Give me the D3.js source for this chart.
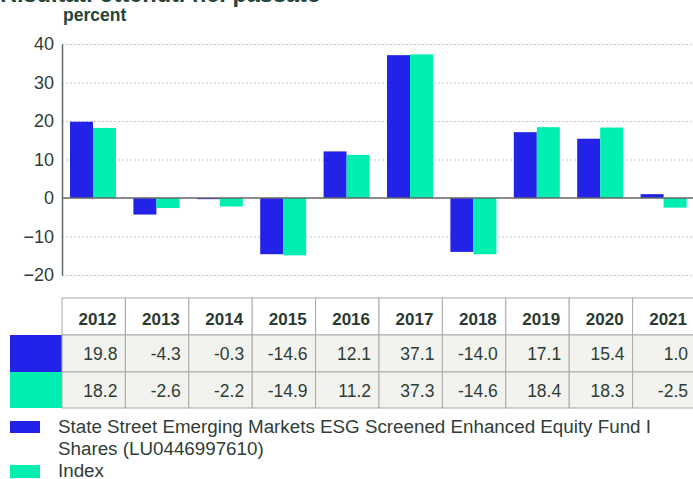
<!DOCTYPE html>
<html>
<head>
<meta charset="utf-8">
<script src="https://cdn.jsdelivr.net/npm/d3@7"></script>
<style>
  body { margin: 0; background: #fff; }
  svg { font-family: "Liberation Sans", Arial, sans-serif; display: block; }
</style>
</head>
<body>
<div id="chart"></div>
<script>
const years = ["2012", "2013", "2014", "2015", "2016", "2017", "2018", "2019", "2020", "2021"];
const fund = [19.8, -4.3, -0.3, -14.6, 12.1, 37.1, -14.0, 17.1, 15.4, 1.0];
const index = [18.2, -2.6, -2.2, -14.9, 11.2, 37.3, -14.6, 18.4, 18.3, -2.5];
const yTicks = [40, 30, 20, 10, 0, -10, -20];
const seriesNames = ["State Street Emerging Markets ESG Screened Enhanced Equity Fund I", "Shares (LU0446997610)"];
const indexName = "Index";

const colors = {fund: "#2222e8", index: "#00efb0"};
const textCol = "#2f3d37";

const W = 693, H = 479;
// table columns run a little past the right edge of the window
const plot = {left: 62, right: 696, top: 44, bottom: 275};

const svg = d3.select("#chart").append("svg")
  .attr("width", W).attr("height", H);

// title (cut off at the top)
svg.append("text").attr("x", 0).attr("y", 2)
  .attr("font-size", 23.5).attr("font-weight", "bold").attr("fill", "#25443a")
  .text("Risultati ottenuti nel passato");
svg.append("text").attr("x", 63).attr("y", 21)
  .attr("font-size", 17.5).attr("font-weight", "bold").attr("fill", "#25443a")
  .text("percent");

const x = d3.scaleBand().domain(years).range([plot.left, plot.right]);
const y = d3.scaleLinear().domain([-20, 40]).range([plot.bottom, plot.top]);

// grid
svg.append("g").selectAll("line")
  .data(yTicks.filter(d => d !== 0))
  .join("line")
  .attr("x1", plot.left).attr("x2", W)
  .attr("y1", d => y(d) + 0.5).attr("y2", d => y(d) + 0.5)
  .attr("stroke", "#c4c4c4").attr("stroke-dasharray", "2,2");

// y axis
const yAxis = svg.append("g")
  .attr("transform", `translate(${plot.left},0)`)
  .call(d3.axisLeft(y).tickValues(yTicks).tickSize(0).tickPadding(8).tickFormat(d3.format("d")));
yAxis.select(".domain").attr("stroke", "#666").attr("stroke-width", 1.5);
yAxis.selectAll("text").attr("font-size", 18).attr("fill", textCol)
  .attr("font-family", "Liberation Sans, Arial, sans-serif");

// bars
const inner = d3.scaleBand().domain(["fund", "index"]).range([8, 54]);
const barData = [];
years.forEach((yr, i) => {
  barData.push({yr, key: "fund", v: fund[i]});
  barData.push({yr, key: "index", v: index[i]});
});
svg.append("g").selectAll("rect")
  .data(barData)
  .join("rect")
  .attr("x", d => x(d.yr) + inner(d.key))
  .attr("width", inner.bandwidth())
  .attr("y", d => y(Math.max(0, d.v)))
  .attr("height", d => Math.abs(y(d.v) - y(0)))
  .attr("fill", d => colors[d.key]);

// zero line
svg.append("line").attr("x1", plot.left).attr("x2", W)
  .attr("y1", y(0)).attr("y2", y(0))
  .attr("stroke", "#666").attr("stroke-width", 1.5);

// table
const tTop = 298, rowH = [37, 37, 36];
const rowY = [tTop, tTop + rowH[0], tTop + rowH[0] + rowH[1]];
const border = "#aaaaaa";
const tbl = svg.append("g");

// swatches in the first column
tbl.append("rect").attr("x", 10).attr("y", rowY[1]).attr("width", plot.left - 10).attr("height", rowH[1]).attr("fill", colors.fund);
tbl.append("rect").attr("x", 10).attr("y", rowY[2]).attr("width", plot.left - 10).attr("height", rowH[2]).attr("fill", colors.index);

// cells
years.forEach((yr, i) => {
  const cx = x(yr), cw = x.bandwidth();
  tbl.append("rect").attr("x", cx).attr("y", rowY[0]).attr("width", cw).attr("height", rowH[0])
    .attr("fill", "#fff").attr("stroke", border);
  tbl.append("text").attr("x", cx + cw - 9).attr("y", rowY[0] + 27)
    .attr("text-anchor", "end").attr("font-size", 17).attr("font-weight", "bold").attr("fill", "#2a3a33")
    .text(yr);
  [fund, index].forEach((arr, r) => {
    tbl.append("rect").attr("x", cx).attr("y", rowY[r + 1]).attr("width", cw).attr("height", rowH[r + 1])
      .attr("fill", "#f2f2ee").attr("stroke", border);
    tbl.append("text").attr("x", cx + cw - 8).attr("y", rowY[r + 1] + 25)
      .attr("text-anchor", "end").attr("font-size", 17.5).attr("fill", textCol)
      .text(arr[i].toFixed(1));
  });
});

// legend
const lg = svg.append("g");
lg.append("rect").attr("x", 10).attr("y", 421).attr("width", 30).attr("height", 12).attr("fill", colors.fund);
seriesNames.forEach((s, i) => {
  lg.append("text").attr("x", 58).attr("y", 433 + i * 22)
    .attr("font-size", 18.8).attr("fill", textCol).text(s);
});
lg.append("rect").attr("x", 10).attr("y", 465).attr("width", 30).attr("height", 13).attr("fill", colors.index);
lg.append("text").attr("x", 58).attr("y", 477)
  .attr("font-size", 18.8).attr("fill", textCol).text(indexName);
</script>
</body>
</html>
